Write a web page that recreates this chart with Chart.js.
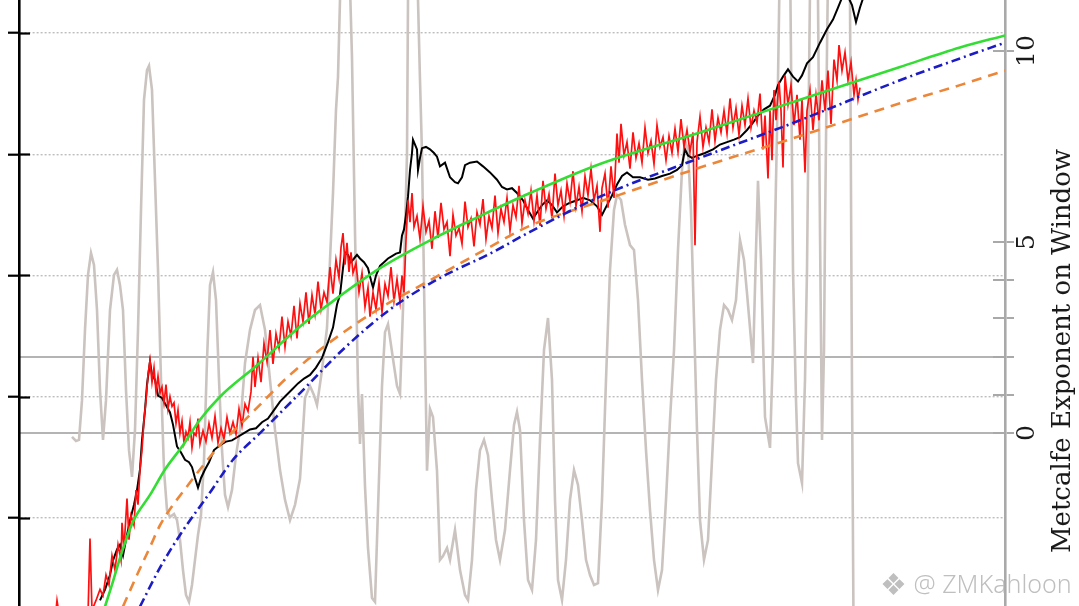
<!DOCTYPE html>
<html><head><meta charset="utf-8">
<script src="https://cdn.jsdelivr.net/npm/chart.js@4.4.1/dist/chart.umd.min.js"></script>
<style>
html,body{margin:0;padding:0;background:#fff;overflow:hidden}
#wrap{position:relative;width:1079px;height:606px}
#wm{position:absolute;left:880px;top:563px;font:300 25px 'Noto Sans',sans-serif;color:rgba(175,175,175,0.8);white-space:nowrap;pointer-events:none}
#wm span{font-size:30px;vertical-align:-2px}
</style></head>
<body><div id="wrap"><canvas id="c" width="1079" height="606"></canvas><div id="wm"><span>❖</span> @ ZMKahloon</div></div>
<script>
// ---- axis ticks ----
const leftGrid = [0, 1, 2, 3, 4];
const rightTicks = [0, 1, 2, 3, 4, 5, 10];
const rightLabels = [0, 5, 10];
const rightSolidLines = [0, 2];
const rightTitle = 'Metcalfe Exponent on Window';

// ---- smooth fitted curves (left axis) [t, value] ----
const fitGreen = [[8.6,-0.73],[9.3,-0.55],[10.1,-0.33],[11.4,-0.03],[13.1,0.19],[14.6,0.40],[16.4,0.60],[18.1,0.81],[20.1,1.00],[23.8,1.26],[28.1,1.58],[31.1,1.77],[36.1,2.06],[41.1,2.29],[46.1,2.49],[51.1,2.68],[58.1,2.92],[68.1,3.18],[78.1,3.45],[88.1,3.72],[94.1,3.88],[98.6,3.98]];
const fitBlue = [[12.1,-0.73],[14.1,-0.41],[16.1,-0.14],[19.1,0.21],[21.4,0.48],[24.1,0.70],[28.1,1.03],[32.4,1.39],[37.1,1.72],[42.1,1.98],[47.1,2.18],[51.1,2.36],[58.1,2.65],[68.1,2.97],[78.1,3.28],[88.1,3.61],[94.1,3.79],[98.6,3.92]];
const fitOrange = [[10.4,-0.73],[11.8,-0.47],[13.1,-0.24],[14.1,-0.06],[16.8,0.26],[20.1,0.60],[23.1,0.85],[27.1,1.18],[31.1,1.45],[36.1,1.73],[41.1,1.96],[46.1,2.19],[51.1,2.41],[58.1,2.61],[68.1,2.89],[78.1,3.15],[88.1,3.42],[94.1,3.57],[98.6,3.69]];

// ---- price (black, left axis) ----
const price = [[8.1,-0.68],[8.6,-0.59],[9.1,-0.47],[9.4,-0.35],[9.8,-0.26],[10.1,-0.22],[10.4,-0.31],[10.7,-0.18],[11.1,-0.02],[11.5,0.11],[11.8,0.23],[12.1,0.40],[12.3,0.64],[12.6,0.89],[12.8,1.10],[13.1,1.29],[13.3,1.18],[13.6,1.14],[13.9,1.01],[14.3,0.99],[14.7,0.93],[15.1,0.87],[15.4,0.77],[15.8,0.59],[16.2,0.54],[16.6,0.48],[17.0,0.46],[17.3,0.42],[17.6,0.33],[17.9,0.25],[18.2,0.33],[18.6,0.40],[19.0,0.46],[19.5,0.56],[20.1,0.60],[20.7,0.63],[21.3,0.64],[21.9,0.67],[22.5,0.70],[23.1,0.73],[23.7,0.74],[24.3,0.79],[24.9,0.82],[25.5,0.89],[26.1,0.96],[26.7,1.01],[27.3,1.06],[27.9,1.11],[28.5,1.15],[29.1,1.18],[29.7,1.24],[30.3,1.32],[30.9,1.45],[31.4,1.57],[31.8,1.76],[32.1,1.84],[32.4,2.06],[32.6,2.19],[32.9,2.17],[33.2,2.11],[33.5,2.14],[33.8,2.17],[34.1,2.14],[34.5,2.11],[34.9,2.06],[35.2,1.96],[35.4,1.90],[35.7,2.00],[36.1,2.08],[36.5,2.11],[36.9,2.14],[37.3,2.16],[37.7,2.18],[38.1,2.19],[38.3,2.33],[38.5,2.38],[38.7,2.50],[38.9,2.65],[39.1,2.87],[39.3,3.01],[39.4,3.12],[39.6,3.08],[39.8,3.04],[39.9,2.87],[40.1,2.97],[40.3,3.05],[40.7,3.06],[41.1,3.04],[41.5,3.01],[41.8,2.98],[42.1,2.90],[42.6,2.93],[43.1,2.81],[43.6,2.77],[43.9,2.76],[44.3,2.81],[44.6,2.91],[45.1,2.93],[45.8,2.94],[46.4,2.90],[47.1,2.85],[47.8,2.79],[48.3,2.73],[48.8,2.71],[49.3,2.72],[49.8,2.68],[50.4,2.62],[50.9,2.54],[51.4,2.47],[51.8,2.52],[52.3,2.58],[52.8,2.62],[53.3,2.58],[53.8,2.52],[54.4,2.57],[55.1,2.60],[55.8,2.62],[56.4,2.64],[57.1,2.62],[57.8,2.57],[58.3,2.50],[58.8,2.58],[59.3,2.66],[59.8,2.75],[60.3,2.82],[60.8,2.85],[61.4,2.81],[62.1,2.81],[62.9,2.79],[63.6,2.80],[64.3,2.82],[65.1,2.84],[65.8,2.87],[66.3,2.91],[66.6,3.04],[66.9,2.99],[67.3,2.97],[67.9,2.99],[68.6,3.01],[69.4,3.04],[70.1,3.08],[70.8,3.10],[71.5,3.12],[72.1,3.14],[72.8,3.20],[73.4,3.26],[73.9,3.32],[74.5,3.37],[75.1,3.40],[75.6,3.49],[75.9,3.57],[76.4,3.64],[76.9,3.70],[77.4,3.64],[77.9,3.60],[78.3,3.65],[78.8,3.75],[79.4,3.80],[80.1,3.92],[80.8,4.03],[81.4,4.11],[81.9,4.21],[82.4,4.31],[82.9,4.30],[83.3,4.23],[83.7,4.09],[84.1,4.21],[84.5,4.31]];

// ---- Metcalfe value (red, left axis) ----
const metcalfe = [[3.6,-0.84],[3.8,-0.68],[4.1,-0.84],[6.9,-0.80],[7.1,-0.17],[7.3,-0.76],[7.7,-0.68],[8.1,-0.59],[8.4,-0.64],[8.7,-0.47],[9.0,-0.55],[9.3,-0.31],[9.6,-0.43],[9.9,-0.22],[10.2,-0.35],[10.3,-0.04],[10.5,-0.25],[10.8,0.16],[11.0,-0.18],[11.2,0.02],[11.5,-0.06],[11.7,0.23],[11.9,0.11],[12.1,0.40],[12.3,0.56],[12.5,0.81],[12.7,0.97],[12.9,1.18],[13.1,1.30],[13.3,1.12],[13.5,1.24],[13.7,1.04],[13.9,1.17],[14.1,1.03],[14.3,1.08],[14.5,0.95],[14.7,1.10],[14.9,0.90],[15.1,1.00],[15.3,0.92],[15.5,0.95],[15.7,0.78],[15.9,0.89],[16.1,0.70],[16.3,0.80],[16.5,0.62],[16.7,0.71],[16.9,0.66],[17.1,0.79],[17.3,0.58],[17.5,0.70],[17.7,0.68],[17.9,0.82],[18.1,0.61],[18.4,0.72],[18.7,0.63],[19.0,0.78],[19.3,0.66],[19.6,0.84],[19.9,0.62],[20.2,0.74],[20.5,0.65],[20.8,0.83],[21.1,0.70],[21.4,0.79],[21.7,0.69],[22.0,0.90],[22.3,0.76],[22.6,0.94],[22.9,0.88],[23.2,1.04],[23.4,1.33],[23.6,1.08],[23.9,1.32],[24.2,1.12],[24.5,1.44],[24.8,1.29],[25.1,1.55],[25.4,1.27],[25.7,1.52],[26.0,1.40],[26.3,1.66],[26.6,1.41],[26.9,1.62],[27.2,1.50],[27.5,1.75],[27.8,1.48],[28.1,1.77],[28.4,1.62],[28.7,1.86],[29.0,1.60],[29.3,1.84],[29.6,1.68],[29.9,1.95],[30.2,1.72],[30.5,1.86],[30.8,1.78],[31.1,2.07],[31.4,1.85],[31.7,2.13],[32.0,1.98],[32.2,2.23],[32.4,2.35],[32.6,2.09],[32.8,2.27],[33.0,2.03],[33.2,2.19],[33.4,2.02],[33.7,2.10],[34.0,1.86],[34.3,2.02],[34.6,1.74],[34.9,1.90],[35.1,1.66],[35.4,1.86],[35.7,1.72],[36.0,1.94],[36.3,1.70],[36.6,1.93],[36.9,1.83],[37.2,2.07],[37.5,1.79],[37.8,1.97],[38.1,1.78],[38.3,2.00],[38.5,1.86],[38.7,2.29],[38.9,2.62],[39.1,2.44],[39.3,2.68],[39.5,2.40],[39.8,2.49],[40.1,2.30],[40.4,2.57],[40.7,2.36],[41.0,2.45],[41.3,2.22],[41.6,2.53],[41.9,2.31],[42.2,2.60],[42.5,2.38],[42.8,2.44],[43.1,2.16],[43.4,2.50],[43.7,2.33],[44.0,2.39],[44.3,2.26],[44.6,2.61],[44.9,2.40],[45.2,2.47],[45.5,2.24],[45.8,2.52],[46.1,2.42],[46.4,2.63],[46.7,2.30],[47.0,2.49],[47.3,2.39],[47.6,2.66],[47.9,2.35],[48.2,2.55],[48.5,2.44],[48.8,2.64],[49.1,2.37],[49.4,2.58],[49.7,2.48],[50.0,2.74],[50.3,2.43],[50.6,2.62],[50.9,2.51],[51.2,2.70],[51.5,2.45],[51.8,2.66],[52.1,2.41],[52.4,2.78],[52.7,2.55],[53.0,2.67],[53.3,2.47],[53.6,2.84],[53.9,2.58],[54.2,2.70],[54.5,2.49],[54.8,2.76],[55.1,2.61],[55.4,2.86],[55.7,2.57],[56.0,2.73],[56.3,2.53],[56.6,2.82],[56.9,2.66],[57.2,2.88],[57.5,2.62],[57.8,2.74],[58.1,2.36],[58.3,2.72],[58.6,2.84],[58.9,2.56],[59.2,2.90],[59.5,2.64],[59.8,3.17],[60.0,2.93],[60.2,3.25],[60.5,2.99],[60.8,3.10],[61.1,2.88],[61.4,3.18],[61.7,2.97],[62.0,3.09],[62.3,2.93],[62.6,3.22],[62.9,3.01],[63.2,3.11],[63.5,2.92],[63.8,3.24],[64.1,3.06],[64.4,3.14],[64.7,2.95],[65.0,3.15],[65.3,3.01],[65.6,3.21],[65.9,3.02],[66.2,3.29],[66.5,3.06],[66.8,3.20],[67.1,3.02],[67.4,3.18],[67.6,2.25],[67.8,3.10],[68.1,3.31],[68.4,3.06],[68.7,3.22],[69.0,3.10],[69.3,3.37],[69.6,3.11],[69.9,3.30],[70.2,3.18],[70.5,3.36],[70.8,3.17],[71.1,3.46],[71.4,3.22],[71.7,3.38],[72.0,3.16],[72.3,3.40],[72.6,3.24],[72.9,3.46],[73.2,3.22],[73.5,3.36],[73.8,3.26],[74.1,3.50],[74.4,3.04],[74.6,3.32],[74.9,2.80],[75.1,3.36],[75.3,2.95],[75.5,3.53],[75.7,3.28],[76.0,3.60],[76.2,3.36],[76.4,2.89],[76.6,3.65],[76.9,3.41],[77.2,3.57],[77.5,3.24],[77.8,3.49],[78.1,3.12],[78.3,3.45],[78.6,2.85],[78.8,3.36],[79.1,3.53],[79.4,3.20],[79.7,3.49],[80.0,3.28],[80.3,3.61],[80.6,3.36],[80.9,3.69],[81.2,3.25],[81.5,3.78],[81.8,3.61],[82.0,3.90],[82.3,3.69],[82.6,3.84],[82.9,3.61],[83.2,3.76],[83.5,3.49],[83.7,3.61],[83.9,3.45],[84.1,3.55]];

// ---- Metcalfe exponent on window (grey, right axis) ----
const exponent = [[5.3,-0.10],[5.7,-0.21],[6.0,-0.18],[6.3,0.86],[6.6,2.70],[6.9,4.14],[7.2,4.71],[7.5,4.40],[7.8,3.22],[8.1,1.13],[8.4,-0.18],[8.7,0.86],[9.1,3.22],[9.5,4.14],[9.8,4.27],[10.1,3.87],[10.4,3.22],[10.7,1.13],[11.0,-0.45],[11.3,-1.15],[11.6,0.08],[11.9,2.70],[12.2,5.84],[12.5,8.72],[12.8,9.50],[13.0,9.61],[13.3,8.98],[13.6,6.62],[13.9,4.27],[14.2,1.39],[14.5,-0.97],[14.8,-2.02],[15.1,-2.20],[15.5,-2.12],[15.8,-2.28],[16.1,-2.80],[16.4,-3.59],[16.7,-4.24],[17.0,-4.42],[17.3,-3.98],[17.6,-3.32],[17.9,-2.67],[18.2,-2.15],[18.5,-0.71],[18.8,1.91],[19.1,3.87],[19.4,4.21],[19.7,3.48],[20.0,1.39],[20.3,-0.45],[20.6,-1.62],[20.9,-1.94],[21.3,-1.49],[21.7,-0.58],[22.1,0.08],[22.6,1.83],[23.1,2.70],[23.6,3.22],[24.1,3.35],[24.6,2.70],[25.1,1.39],[25.6,0.08],[26.1,-0.97],[26.6,-1.75],[27.1,-2.28],[27.6,-1.88],[28.1,-1.20],[28.6,0.92],[29.1,1.23],[29.5,0.99],[29.8,0.73],[30.3,1.65],[30.8,2.75],[31.1,4.53],[31.4,6.28],[31.7,8.46],[31.9,9.32],[32.1,11.34],[32.4,13.43],[32.7,13.95],[33.0,12.64],[33.3,9.82],[33.6,5.26],[33.9,1.23],[34.1,-0.29],[34.3,1.02],[34.6,-1.39],[34.9,-3.01],[35.3,-4.32],[35.6,-4.42],[35.8,-2.80],[36.3,1.23],[36.6,2.64],[36.9,2.85],[37.4,1.94],[37.8,1.23],[38.1,1.02],[38.4,3.25],[38.6,5.31],[38.8,7.30],[38.9,11.34],[39.3,13.95],[39.7,12.64],[39.9,11.34],[40.1,9.24],[40.3,7.30],[40.6,2.25],[40.8,-0.99],[41.1,0.63],[41.4,0.42],[41.8,-0.99],[42.1,-3.32],[42.4,-3.22],[42.8,-3.01],[43.1,-3.32],[43.6,-2.54],[44.1,-3.59],[44.6,-4.24],[44.9,-4.37],[45.3,-3.32],[45.7,-1.49],[46.1,-0.45],[46.5,-0.18],[46.9,-0.58],[47.3,-1.75],[47.7,-2.80],[48.1,-3.32],[48.6,-2.54],[49.1,-0.97],[49.5,0.21],[49.8,0.55],[50.1,0.08],[50.5,-2.28],[50.9,-3.85],[51.3,-4.11],[51.7,-2.80],[52.1,-0.18],[52.5,2.17],[52.9,3.01],[53.3,1.39],[53.6,-1.75],[53.9,-3.85],[54.3,-4.37],[54.7,-3.32],[55.1,-1.75],[55.5,-0.97],[55.9,-1.36],[56.3,-2.28],[56.7,-3.32],[57.1,-3.72],[57.5,-3.98],[57.9,-3.93],[58.3,-1.75],[58.7,1.39],[59.1,4.27],[59.5,5.84],[59.8,6.23],[60.2,6.10],[60.6,5.45],[61.1,4.92],[61.5,4.79],[61.9,3.48],[62.3,1.39],[62.7,-0.45],[63.1,-2.02],[63.5,-3.32],[63.9,-4.11],[64.3,-3.59],[64.7,-1.75],[65.1,0.34],[65.5,2.17],[65.9,4.79],[66.3,6.88],[66.6,7.67],[66.9,7.41],[67.2,5.84],[67.5,2.96],[67.8,0.08],[68.1,-2.28],[68.5,-3.32],[68.9,-2.80],[69.3,-0.71],[69.7,1.39],[70.1,2.70],[70.5,3.35],[70.9,3.22],[71.3,2.96],[71.7,3.48],[72.1,5.05],[72.5,4.53],[72.8,3.66],[73.1,2.75],[73.4,1.83],[73.7,4.79],[73.9,6.60],[74.2,4.53],[74.6,0.42],[75.1,-0.39],[75.4,2.17],[75.6,5.26],[75.9,9.24],[76.1,12.64],[76.6,15.26],[77.1,12.64],[77.4,4.27],[77.7,0.86],[77.9,-0.79],[78.3,-1.31],[78.6,1.39],[78.8,4.27],[79.0,9.24],[79.2,13.95],[79.6,15.26],[79.9,11.34],[80.1,5.26],[80.3,-0.18],[80.5,2.17],[80.6,5.26],[80.8,10.03],[81.0,13.95],[81.6,16.57],[82.6,16.57],[83.1,11.34],[83.3,1.23],[83.5,-6.99]];

const toXY = arr => arr.map(p => ({x: p[0], y: p[1]}));

const extras = {
  id: 'extras',
  afterDatasetsDraw(chart) {
    const {ctx, chartArea} = chart;
    const yL = chart.scales.yL, yR = chart.scales.yR;
    ctx.save();
    ctx.lineWidth = 2.2; ctx.strokeStyle = '#000';
    leftGrid.forEach(v => { const y = Math.round(yL.getPixelForValue(v)) + 0.5; ctx.beginPath(); ctx.moveTo(chartArea.left, y); ctx.lineTo(chartArea.left + 11, y); ctx.stroke(); });
    ctx.lineWidth = 2; ctx.strokeStyle = '#a9a9a9';
    rightTicks.forEach(v => { const y = Math.round(yR.getPixelForValue(v)); ctx.beginPath(); ctx.moveTo(chartArea.right - 12, y); ctx.lineTo(chartArea.right, y); ctx.stroke(); });
    ctx.restore();
  },
  afterDraw(chart) {
    const {ctx} = chart;
    ctx.save();
    ctx.translate(chart.width - 9, 351);
    ctx.rotate(-Math.PI / 2);
    ctx.font = "26px 'DejaVu Serif', serif";
    ctx.fillStyle = '#1a1a1a';
    ctx.textAlign = 'center';
    ctx.textBaseline = 'alphabetic';
    ctx.fillText(rightTitle, 0, 0);
    ctx.restore();
  }
};

new Chart(document.getElementById('c'), {
  type: 'line',
  data: {
    datasets: [
      {data: toXY(fitGreen), yAxisID: 'yL', borderColor: '#33dd33', borderWidth: 2.6, cubicInterpolationMode: 'monotone', order: 0},
      {data: toXY(fitBlue), yAxisID: 'yL', borderColor: '#1c1cc4', borderWidth: 2.6, borderDash: [9, 4, 2, 4], cubicInterpolationMode: 'monotone', order: 1},
      {data: toXY(fitOrange), yAxisID: 'yL', borderColor: '#ec8638', borderWidth: 2.6, borderDash: [10, 7], cubicInterpolationMode: 'monotone', order: 2},
      {data: toXY(metcalfe), yAxisID: 'yL', borderColor: '#ff1010', borderWidth: 1.7, order: 3},
      {data: toXY(price), yAxisID: 'yL', borderColor: '#000000', borderWidth: 2, order: 4},
      {data: toXY(exponent), yAxisID: 'yR', borderColor: '#cbc3bf', borderWidth: 2.6, order: 5}
    ]
  },
  options: {
    responsive: false,
    animation: false,
    layout: {padding: 0},
    elements: {point: {radius: 0}, line: {tension: 0}},
    plugins: {legend: {display: false}, tooltip: {enabled: false}, title: {display: false}},
    scales: {
      x: {type: 'linear', min: 0, max: 98.6, display: false},
      yL: {
        position: 'left', min: -0.726, max: 4.272,
        afterBuildTicks: s => { s.ticks = leftGrid.map(v => ({value: v})); },
        ticks: {display: false},
        grid: {color: '#bdbdbd', lineWidth: 1.4, tickColor: '#000', tickLength: 11, tickWidth: 2.2},
        border: {display: true, color: '#000', width: 2.6, dash: [2, 2]},
        afterFit: s => { s.width = 19; s.paddingTop = 0; s.paddingBottom = 0; }
      },
      yR: {
        position: 'right', min: -4.529, max: 11.335,
        afterBuildTicks: s => { s.ticks = rightTicks.map(v => ({value: v})); },
        ticks: {display: true, autoSkip: false, minRotation: 90, maxRotation: 90, crossAlign: 'center', padding: -2,
          color: '#1a1a1a', font: {family: "'DejaVu Serif', serif", size: 25},
          callback: v => rightLabels.includes(v) ? String(v) : ''},
        grid: {color: c => (c.tick && rightSolidLines.includes(c.tick.value)) ? '#b4b4b4' : 'rgba(0,0,0,0)', lineWidth: 2, tickColor: '#a9a9a9', tickLength: 9, tickWidth: 2},
        border: {display: true, color: '#a9a9a9', width: 2.6},
        afterFit: s => { s.width = 74; s.paddingTop = 0; s.paddingBottom = 0; }
      }
    }
  },
  plugins: [extras]
});
</script>
</body></html>
